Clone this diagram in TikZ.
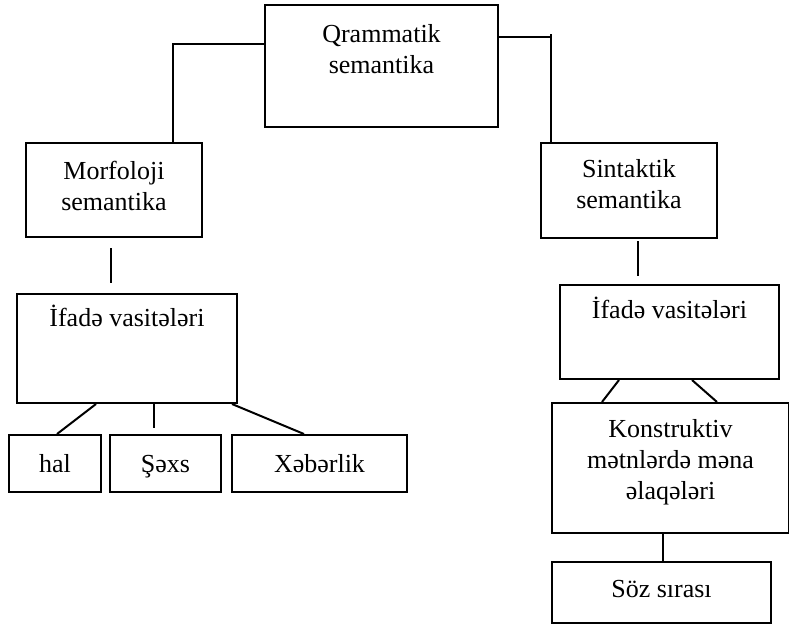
\documentclass[tikz,border=0pt]{standalone}
\usepackage{fontspec}
\setmainfont{Liberation Serif}
\tikzset{
  blok/.style={draw, line width=2pt, inner sep=0pt},
  yuxari/.style={anchor=north, align=center, inner sep=0pt},
}
\begin{document}
\begin{tikzpicture}[x=1pt,y=-1pt, line width=2pt, font=\fontsize{26}{31}\selectfont]
\useasboundingbox (0,0) rectangle (789,625);
\node[blok, minimum width=233pt, minimum height=122pt, label={[yuxari,yshift=-19pt]north:Qrammatik\\semantika}] (qram) at (381.5,66) {};
\node[blok, minimum width=176pt, minimum height=94pt, label={[yuxari,yshift=-18pt]north:Morfoloji\\semantika}] (morf) at (114,190) {};
\node[blok, minimum width=176pt, minimum height=95pt, label={[yuxari,yshift=-16.5pt]north:Sintaktik\\semantika}] (sint) at (629,190.5) {};
\node[blok, minimum width=220pt, minimum height=109pt, label={[yuxari,yshift=-11.5pt]north:İfadə vasitələri}] (ifadeL) at (127,348.5) {};
\node[blok, minimum width=219pt, minimum height=94pt, label={[yuxari,yshift=-12pt]north:İfadə vasitələri}] (ifadeR) at (669.5,332) {};
\node[blok, minimum width=237pt, minimum height=130pt, label={[yuxari,yshift=-16pt]north:Konstruktiv\\mətnlərdə məna\\əlaqələri}] (konst) at (670.5,468) {};
% alt sira
\node[blok, minimum width=92pt, minimum height=57pt] (hal) at (55,463.5) {hal};
\node[blok, minimum width=111pt, minimum height=57pt, text depth=0pt] (sexs) at (165.5,463.5) {Şəxs};
\node[blok, minimum width=175pt, minimum height=57pt] (xeber) at (319.5,463.5) {Xəbərlik};
\node[blok, minimum width=219pt, minimum height=61pt, text depth=8pt] (soz) at (661.5,592.5) {Söz sırası};
% xetler
\draw ([yshift=-40pt]qram.north west) -| ([xshift=59pt]morf.north);
\draw ([yshift=-33pt]qram.north east) -| ([xshift=-78pt]sint.north);
\draw ([xshift=-78pt]sint.north) -- ++(0,-108);
\draw ([xshift=-3pt,yshift=-10pt]morf.south) -- ([xshift=-16pt,yshift=10pt]ifadeL.north);
\draw ([xshift=9pt,yshift=-2pt]sint.south) -- ([xshift=-31.5pt,yshift=8pt]ifadeR.north);
\draw ([xshift=-31pt]ifadeL.south) -- ([xshift=2pt]hal.north);
\draw ([xshift=27pt,yshift=2pt]ifadeL.south) -- ([xshift=-11.5pt,yshift=6pt]sexs.north);
\draw ([xshift=105pt]ifadeL.south) -- ([xshift=-15.5pt]xeber.north);
\draw ([xshift=-50.5pt]ifadeR.south) -- ([xshift=-68.5pt]konst.north);
\draw ([xshift=22.5pt]ifadeR.south) -- ([xshift=46.5pt]konst.north);
\draw ([xshift=-7.5pt]konst.south) -- ([xshift=1.5pt]soz.north);
\end{tikzpicture}
\end{document}
